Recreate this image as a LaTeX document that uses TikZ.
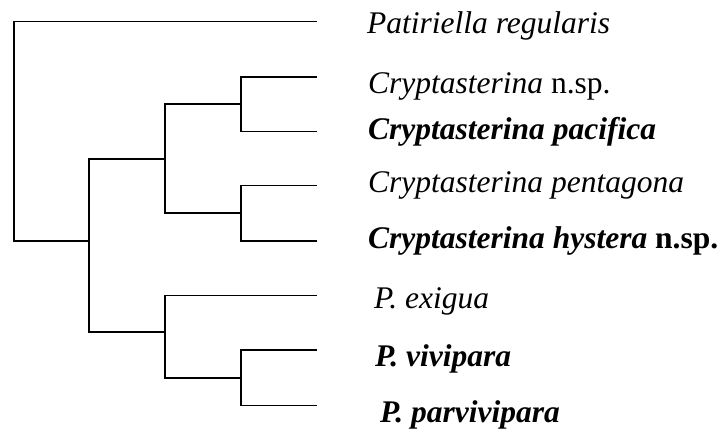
\documentclass[tikz,border=0pt]{standalone}
\usepackage{fontspec}
\setmainfont{Liberation Serif}
\begin{document}
\begin{tikzpicture}[x=1pt,y=-1pt,
  branch/.style={draw=black,line width=1.6pt,line join=miter},
  taxon/.style={anchor=base west,inner sep=0pt,font=\fontsize{31.5}{36}\selectfont}]
\useasboundingbox (0,0) rectangle (724,430);
% leaf ends
\coordinate (lP)  at (316.7,21.7);
\coordinate (lN)  at (316.7,77);
\coordinate (lPa) at (316.7,131.7);
\coordinate (lPe) at (316.7,185.7);
\coordinate (lH)  at (316.7,241);
\coordinate (lE)  at (316.7,295.7);
\coordinate (lV)  at (316.7,350.3);
\coordinate (lPv) at (316.7,405.7);
% internal nodes
\coordinate (root) at (13.7,131);
\coordinate (n1) at (89,241);
\coordinate (n2) at (165,159);
\coordinate (n3) at (240.7,104);
\coordinate (n4) at (240.7,213.3);
\coordinate (n5) at (165,332.3);
\coordinate (n6) at (240.7,378);
% branches
\draw[branch] (lP) -| (root) |- (n1);
\draw[branch] (n2) -| (n1) |- (n5);
\draw[branch] (n3) -| (n2) |- (n4);
\draw[branch] (lN) -| (n3) |- (lPa);
\draw[branch] (lPe) -| (n4) |- (lH);
\draw[branch] (lE) -| (n5) |- (n6);
\draw[branch] (lV) -| (n6) |- (lPv);
% labels
\node[taxon] (t1) at (367,34) {\itshape Patiriella regularis};
\node[taxon] (t2) at (368,94) {\itshape Cryptasterina\/ \upshape n.sp.};
\node[taxon] (t3) at (368,140) {\bfseries\itshape Cryptasterina pacifica};
\node[taxon] (t4) at (368,193) {\itshape Cryptasterina pentagona};
\node[taxon] (t5) at (368,249) {\bfseries\itshape Cryptasterina hystera\/ \upshape n.sp.};
\node[taxon] (t6) at (374,309) {\itshape P. exigua};
\node[taxon] (t7) at (375,367) {\bfseries\itshape P. vivipara};
\node[taxon] (t8) at (380,423) {\bfseries\itshape P. parvivipara};
\end{tikzpicture}
\end{document}
